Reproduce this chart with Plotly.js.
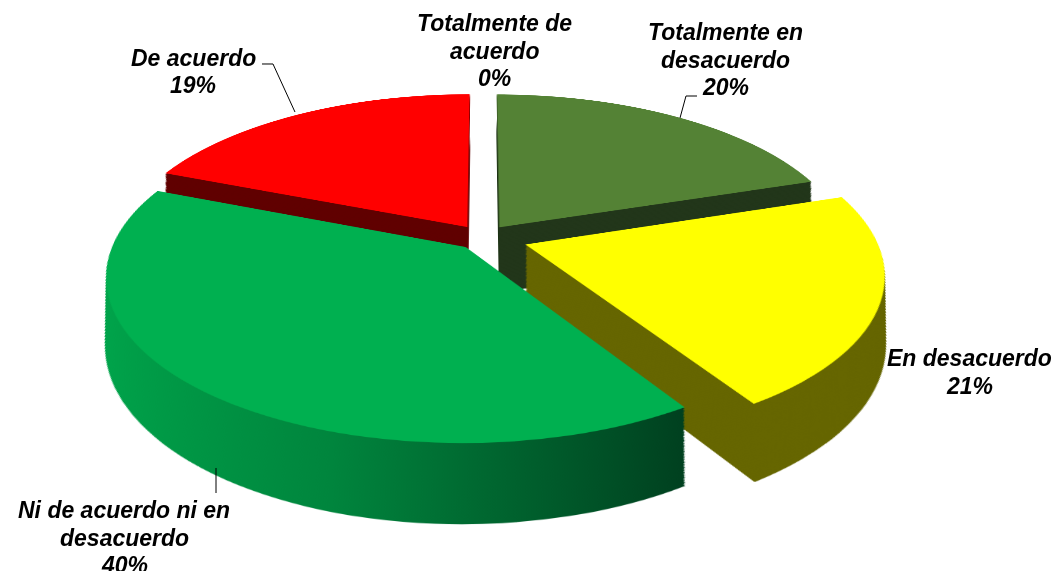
<!DOCTYPE html>
<html>
<head>
<meta charset="utf-8">
<script src="https://cdn.plot.ly/plotly-3.0.1.min.js"></script>
<style>
html,body{margin:0;padding:0;background:#ffffff;overflow:hidden}
#wrap{position:relative;width:1059px;height:571px;overflow:hidden;background:#ffffff}
#pie{position:absolute;left:0;top:-200px;width:1059px;height:1100px;
  transform-origin:483px 437.5px;transform:perspective(1823px) rotateX(63deg)}
#labels{position:absolute;left:0;top:0;width:1059px;height:571px;pointer-events:none}
</style>
</head>
<body>
<div id="wrap"><div id="pie"></div><div id="labels"></div></div>
<script>
// ---- data ----
const categories = ['Totalmente de acuerdo','Totalmente en desacuerdo','En desacuerdo','Ni de acuerdo ni en desacuerdo','De acuerdo'];
const values = [0, 20, 21, 40, 19];
const labelLines = [['Totalmente de','acuerdo'],['Totalmente en','desacuerdo'],['En desacuerdo'],['Ni de acuerdo ni en','desacuerdo'],['De acuerdo']];

// ---- style ----
const topColors  = ['#ffffff','#548235','#ffff00','#00b050','#ff0000'];
const sideColors = ['#ffffff','#22361a','#666600','#007a38','#600000'];
const pulls = [0, 0.08, 0.128, 0.077, 0.08];
const labelPos = [[494,23],[725,32],[969,358],[124,510],[193,58]];
const lineGap = 27.5;
const leaders = [
  [[262,64],[273,64],[295,112]],
  [[697,96],[686,96],[680,118]],
  [[216,468],[216,493]]
];

const W = 1059, H = 571;
// pie plane geometry (before the CSS perspective tilt)
const PIE_W = 1059, PIE_H = 1100;
const AX = 483, AY = 437.5, R = 350;
const DEPTH = 135.6, SHRINK = 0.064;
const NSIDE = 50;

const total = values.reduce((a,b)=>a+b,0);
const pct = values.map(v => Math.round(v/total*100) + '%');

function pieTrace(colors){
  return {
    type:'pie', values: values, labels: categories, sort:false,
    direction:'clockwise', rotation:0, pull: pulls,
    marker:{colors: colors, line:{width:0}},
    textinfo:'none', hoverinfo:'skip', showlegend:false,
    domain:{x:[0,1], y:[0,1]}
  };
}
const traces = [];
for (let i = 0; i < NSIDE; i++) traces.push(pieTrace(sideColors));
traces.push(pieTrace(topColors));

const pieLayout = {
  width: PIE_W, height: PIE_H, margin:{l:0,r:0,t:0,b:0},
  paper_bgcolor:'rgba(0,0,0,0)', plot_bgcolor:'rgba(0,0,0,0)', showlegend:false
};

const annotations = [];
categories.forEach((c, i) => {
  const lines = labelLines[i].concat([pct[i]]);
  lines.forEach((ln, j) => {
    annotations.push({
      xref:'paper', yref:'paper', x: labelPos[i][0]/W, y: 1 - (labelPos[i][1] + j*lineGap)/H,
      xanchor:'center', yanchor:'middle', showarrow:false, text: ln,
      font:{family:'Liberation Sans, Arial, sans-serif', size:23, color:'#000000', weight:'bold', style:'italic'}
    });
  });
});
const shapes = leaders.map(pts => ({
  type:'path', xref:'paper', yref:'paper',
  path: pts.map((p,k) => (k ? 'L' : 'M') + (p[0]/W).toFixed(5) + ',' + (1 - p[1]/H).toFixed(5)).join(' '),
  line:{color:'#000000', width:1}
}));
const labelLayout = {
  width: W, height: H, margin:{l:0,r:0,t:0,b:0},
  paper_bgcolor:'rgba(0,0,0,0)', plot_bgcolor:'rgba(0,0,0,0)', showlegend:false,
  xaxis:{visible:false, range:[0,1]}, yaxis:{visible:false, range:[0,1]},
  annotations: annotations, shapes: shapes
};

const cfg = {staticPlot:true, displayModeBar:false, responsive:false};
const gd = document.getElementById('pie');
Plotly.newPlot(gd, traces, pieLayout, cfg).then(() => {
  const cd0 = gd.calcdata[0][0];
  const r = cd0.r, cx = cd0.cx, cy = cd0.cy;
  const svg = gd.querySelector('svg.main-svg');
  const NS = 'http://www.w3.org/2000/svg';
  let defs = svg.querySelector('defs');
  if (!defs) { defs = document.createElementNS(NS,'defs'); svg.insertBefore(defs, svg.firstChild); }
  const grad = document.createElementNS(NS,'linearGradient');
  grad.setAttribute('id','greenSide');
  grad.setAttribute('x1','0'); grad.setAttribute('y1','0');
  grad.setAttribute('x2','1'); grad.setAttribute('y2','0');
  [['0','#00a54b'],['0.45','#00853d'],['1','#00401f']].forEach(s => {
    const st = document.createElementNS(NS,'stop');
    st.setAttribute('offset', s[0]); st.setAttribute('stop-color', s[1]);
    grad.appendChild(st);
  });
  defs.appendChild(grad);

  const groups = gd.querySelectorAll('.pielayer > g.trace');
  groups.forEach((g, i) => {
    const t = i < NSIDE ? 1 - i/NSIDE : 0;
    const s = (R / r) * (1 - SHRINK*t);
    g.setAttribute('transform', `translate(${AX},${AY + DEPTH*t}) scale(${s}) translate(${-cx},${-cy})`);
    if (i < NSIDE) {
      g.querySelectorAll('path.surface').forEach(p => {
        const f = p.style.fill || '';
        if (f.indexOf('0, 122, 56') >= 0) p.style.fill = 'url(#greenSide)';
      });
    }
  });
});
Plotly.newPlot(document.getElementById('labels'), [], labelLayout, cfg);
</script>
</body>
</html>
